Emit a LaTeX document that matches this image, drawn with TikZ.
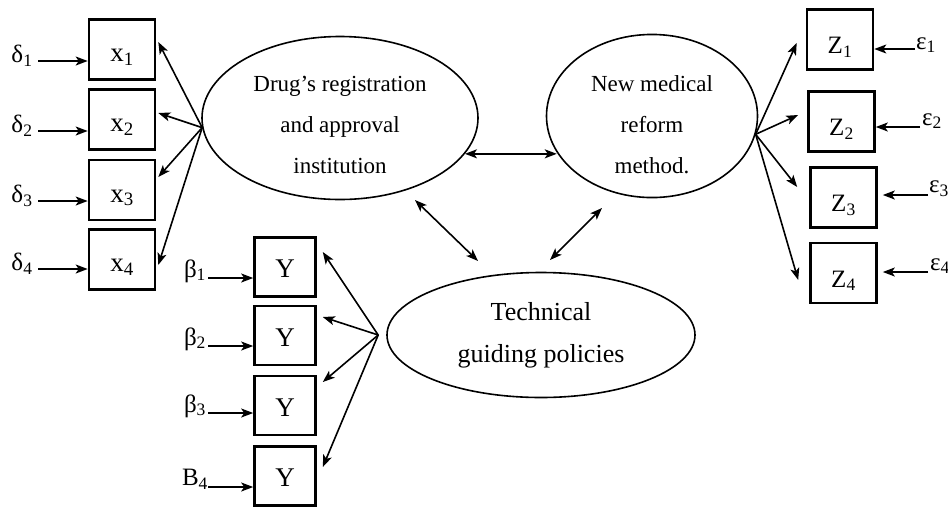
\documentclass[tikz,border=0pt]{standalone}
\usepackage{fontspec}
\setmainfont{Liberation Serif}
\usetikzlibrary{arrows.meta,shapes.geometric,calc}
\begin{document}
\begin{tikzpicture}[x=1pt,y=-1pt,
  box/.style={draw,line width=2.6pt,minimum width=66pt,minimum height=60pt,inner sep=0pt,font=\fontsize{27}{30}\selectfont,text height=24pt,text depth=0pt},
  ybox/.style={box,minimum width=61pt,minimum height=59pt,text height=21pt},
  zbox/.style={box,font=\fontsize{25}{30}\selectfont,text height=28pt},
  oval/.style={draw,ellipse,line width=1.6pt,inner sep=0pt,align=center},
  arr/.style={line width=1.6pt,-{Stealth[length=12pt,width=9pt,inset=3pt]}},
  darr/.style={line width=1.6pt,{Stealth[length=12pt,width=9pt,inset=3pt]}-{Stealth[length=12pt,width=9pt,inset=3pt]}},
  lab/.style={inner sep=0pt,font=\fontsize{25}{28}\selectfont}]
\useasboundingbox (0,0) rectangle (948,507);

% ellipses
\node[oval,minimum width=276pt,minimum height=163pt,font=\fontsize{23}{41}\selectfont] (e1) at (340,118)
  {\rule{0pt}{28.5pt}Drug's registration\\and approval\\institution};
\node[oval,minimum width=211pt,minimum height=158pt,font=\fontsize{23}{41}\selectfont] (e2) at (652,116)
  {\rule{0pt}{33pt}New medical\\reform\\method.};
\node[oval,minimum width=308pt,minimum height=125pt,font=\fontsize{26}{42}\selectfont] (e3) at (541,335)
  {Technical\\guiding policies};

% X boxes
\node[box] (x1) at (122,49.5) {x\textsubscript{1}};
\node[box] (x2) at (122,119.5) {x\textsubscript{2}};
\node[box] (x3) at (122,190) {x\textsubscript{3}};
\node[box] (x4) at (122,259.5) {x\textsubscript{4}};

% Y boxes
\node[ybox] (y1) at (285,267) {Y};
\node[ybox] (y2) at (285,335.5) {Y};
\node[ybox] (y3) at (285,405.5) {Y};
\node[ybox] (y4) at (285,476) {Y};

% Z boxes
\node[zbox] (z1) at (840,39.5) {Z\textsubscript{1}};
\node[zbox] (z2) at (841.5,121.5) {Z\textsubscript{2}};
\node[zbox] (z3) at (843.5,197.5) {Z\textsubscript{3}};
\node[zbox] (z4) at (843.5,273) {Z\textsubscript{4}};

% delta labels and arrows
\node[lab] (dl1) at (22,56) {δ\textsubscript{1}};
\node[lab] (dl2) at (22,126) {δ\textsubscript{2}};
\node[lab] (dl3) at (22,196) {δ\textsubscript{3}};
\node[lab] (dl4) at (22,264) {δ\textsubscript{4}};
\coordinate (d1) at (38,61);
\coordinate (d2) at (38,131);
\coordinate (d3) at (38,201);
\coordinate (d4) at (38,269);
\draw[arr] (d1) -- (d1 -| x1.west);
\draw[arr] (d2) -- (d2 -| x2.west);
\draw[arr] (d3) -- (d3 -| x3.west);
\draw[arr] (d4) -- (d4 -| x4.west);

% beta labels and arrows
\node[lab] (bl1) at (195,271) {β\textsubscript{1}};
\node[lab] (bl2) at (195,339) {β\textsubscript{2}};
\node[lab] (bl3) at (195,406) {β\textsubscript{3}};
\node[lab] (bl4) at (195,479) {B\textsubscript{4}};
\coordinate (b1) at (208,278);
\coordinate (b2) at (208,346);
\coordinate (b3) at (208,413);
\coordinate (b4) at (208,487);
\draw[arr] (b1) -- (b1 -| y1.west);
\draw[arr] (b2) -- (b2 -| y2.west);
\draw[arr] (b3) -- (b3 -| y3.west);
\draw[arr] (b4) -- (b4 -| y4.west);

% epsilon labels and arrows
\node[lab] (el1) at (926,45) {ε\textsubscript{1}};
\node[lab] (el2) at (932,121) {ε\textsubscript{2}};
\node[lab] (el3) at (939,189) {ε\textsubscript{3}};
\node[lab] (el4) at (940,266) {ε\textsubscript{4}};
\coordinate (q1) at (915,49);
\coordinate (q2) at (920,127);
\coordinate (q3) at (928,195);
\coordinate (q4) at (928,272);
\draw[arr] (q1) -- (q1 -| z1.east);
\draw[arr] (q2) -- (q2 -| z2.east);
\draw[arr,shorten >=5pt] (q3) -- (q3 -| z3.east);
\draw[arr,shorten >=5pt] (q4) -- (q4 -| z4.east);

% fans
\coordinate (fanL) at (e1.184);
\draw[arr] (fanL) -- ([xshift=2pt,yshift=7.5pt]x1.east);
\draw[arr] (fanL) -- ([xshift=2pt,yshift=6.5pt]x2.east);
\draw[arr] (fanL) -- ([xshift=2pt,yshift=13pt]x3.east);
\draw[arr] (fanL) -- ([xshift=2pt,yshift=-5.5pt]x4.east);

\coordinate (fanY) at ([xshift=-8pt]e3.west);
\draw[arr] (fanY) -- ([xshift=6pt,yshift=15pt]y1.east);
\draw[arr] (fanY) -- ([xshift=6pt,yshift=18.5pt]y2.east);
\draw[arr] (fanY) -- ([xshift=6pt,yshift=23.5pt]y3.east);
\draw[arr] (fanY) -- ([xshift=6pt,yshift=9pt]y4.east);

\coordinate (fanZ) at (e2.-10);
\draw[arr] (fanZ) -- ([xshift=-9pt,yshift=-3.5pt]z1.west);
\draw[arr] (fanZ) -- ([xshift=-9pt,yshift=6.5pt]z2.west);
\draw[arr] (fanZ) -- ([xshift=-12pt,yshift=10.5pt]z3.west);
\draw[arr] (fanZ) -- ([xshift=-11pt,yshift=-7pt]z4.west);

% double arrows between latent variables
\coordinate (m1) at (e1.-16);
\draw[darr] (m1) -- (m1 -| e2.-159);
\coordinate (g1) at (415,200);
\coordinate (g2) at (478,261);
\coordinate (h1) at (550,260);
\coordinate (h2) at (602,208);
\draw[darr] (g1) -- (g2);
\draw[darr] (h1) -- (h2);
\end{tikzpicture}
\end{document}
